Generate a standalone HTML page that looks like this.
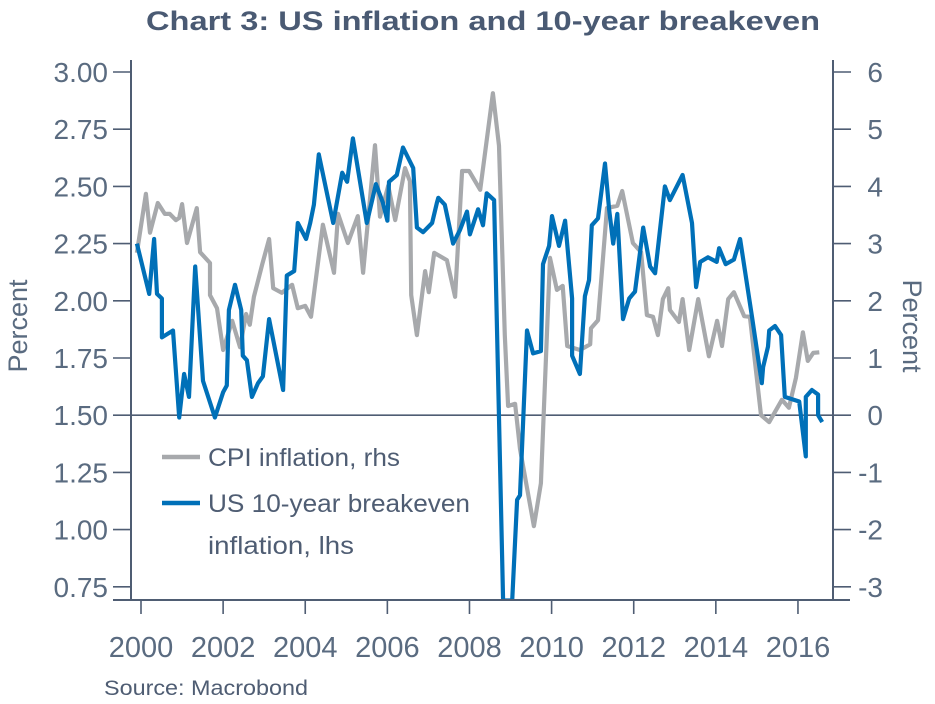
<!DOCTYPE html>
<html><head><meta charset="utf-8"><style>
html,body{margin:0;padding:0;background:#fff;}
svg{display:block;font-family:"Liberation Sans",sans-serif;}
</style></head><body>
<svg width="935" height="704" viewBox="0 0 935 704" xmlns="http://www.w3.org/2000/svg">
<text x="483" y="30" text-anchor="middle" font-size="27" font-weight="bold" fill="#4a5a73" textLength="674" lengthAdjust="spacingAndGlyphs">Chart 3: US inflation and 10-year breakeven</text>
<g id="axes"></g>
<defs><clipPath id="plotclip"><rect x="131" y="60" width="702" height="539"/></clipPath></defs>
<g id="series" clip-path="url(#plotclip)"></g>
<g>
<line x1="162" y1="457" x2="200" y2="457" stroke="#a7a9ac" stroke-width="4.5"/>
<text x="208" y="466" font-size="25" fill="#4f5d73" textLength="192" lengthAdjust="spacingAndGlyphs">CPI inflation, rhs</text>
<line x1="162" y1="503" x2="200" y2="503" stroke="#0070b8" stroke-width="4.5"/>
<text x="208" y="512" font-size="25" fill="#4f5d73" textLength="262" lengthAdjust="spacingAndGlyphs">US 10-year breakeven</text>
<text x="208" y="554" font-size="25" fill="#4f5d73" textLength="146" lengthAdjust="spacingAndGlyphs">inflation, lhs</text>
</g>
<text transform="translate(27,326) rotate(-90)" text-anchor="middle" font-size="27" fill="#5a6b80">Percent</text>
<text transform="translate(903,326) rotate(90)" text-anchor="middle" font-size="27" fill="#5a6b80">Percent</text>
<text x="104" y="695" font-size="21" fill="#4f5d73" textLength="204" lengthAdjust="spacingAndGlyphs">Source: Macrobond</text>
</svg>
<script>
const leftTicks=[3.00,2.75,2.50,2.25,2.00,1.75,1.50,1.25,1.00,0.75];
const leftTickLabels=["3.00","2.75","2.50","2.25","2.00","1.75","1.50","1.25","1.00","0.75"];
const rightTicks=[6,5,4,3,2,1,0,-1,-2,-3];
const rightTickLabels=["6","5","4","3","2","1","0","-1","-2","-3"];
const yearTicks=[2000,2002,2004,2006,2008,2010,2012,2014,2016];
const yearTickLabels=["2000","2002","2004","2006","2008","2010","2012","2014","2016"];
const beYears=[1999.9,2000.2,2000.32,2000.39,2000.51,2000.51,2000.78,2000.93,2001.05,2001.17,2001.32,2001.51,2001.8,2002.0,2002.09,2002.14,2002.29,2002.44,2002.48,2002.58,2002.7,2002.85,2002.97,2003.12,2003.46,2003.55,2003.73,2003.82,2004.02,2004.12,2004.21,2004.33,2004.68,2004.9,2005.02,2005.16,2005.5,2005.72,2005.89,2006.0,2006.04,2006.23,2006.38,2006.63,2006.72,2006.87,2007.09,2007.21,2007.24,2007.4,2007.6,2007.77,2007.94,2008.01,2008.21,2008.33,2008.42,2008.6,2008.82,2009.04,2009.16,2009.23,2009.4,2009.55,2009.74,2009.79,2009.94,2010.01,2010.18,2010.33,2010.5,2010.5,2010.69,2010.81,2010.91,2010.98,2011.13,2011.3,2011.4,2011.5,2011.6,2011.74,2011.89,2012.03,2012.23,2012.4,2012.52,2012.76,2012.88,2013.19,2013.42,2013.52,2013.62,2013.81,2014.02,2014.08,2014.24,2014.44,2014.59,2014.88,2015.12,2015.15,2015.27,2015.3,2015.44,2015.59,2015.68,2016.03,2016.19,2016.19,2016.34,2016.49,2016.49,2016.59];
const beValues=[2.25,2.03,2.27,2.03,2.01,1.84,1.87,1.49,1.68,1.58,2.15,1.65,1.49,1.6,1.63,1.96,2.07,1.96,1.76,1.74,1.58,1.64,1.67,1.92,1.61,2.11,2.13,2.34,2.27,2.34,2.42,2.64,2.34,2.56,2.52,2.71,2.34,2.51,2.43,2.35,2.52,2.55,2.67,2.58,2.32,2.3,2.34,2.43,2.45,2.42,2.25,2.31,2.39,2.29,2.4,2.33,2.47,2.44,0.69,0.69,1.13,1.15,1.87,1.77,1.78,2.16,2.24,2.37,2.24,2.35,2.01,1.76,1.68,2.02,2.09,2.33,2.36,2.6,2.4,2.25,2.38,1.92,2.01,2.04,2.32,2.15,2.12,2.5,2.44,2.55,2.34,2.06,2.17,2.19,2.17,2.23,2.16,2.18,2.27,1.93,1.64,1.71,1.8,1.87,1.89,1.85,1.58,1.56,1.32,1.58,1.61,1.59,1.5,1.47];
const cpiYears=[1999.9,2000.12,2000.22,2000.41,2000.58,2000.7,2000.85,2000.93,2001.0,2001.12,2001.36,2001.44,2001.68,2001.68,2001.85,2002.0,2002.22,2002.41,2002.56,2002.65,2002.75,2002.95,2003.12,2003.22,2003.43,2003.68,2003.82,2004.0,2004.14,2004.43,2004.7,2004.8,2005.04,2005.28,2005.41,2005.7,2005.82,2006.02,2006.19,2006.43,2006.55,2006.58,2006.72,2006.92,2007.01,2007.14,2007.45,2007.65,2007.82,2007.99,2008.26,2008.57,2008.72,2008.86,2008.94,2009.11,2009.23,2009.57,2009.74,2009.96,2010.13,2010.27,2010.38,2010.69,2010.94,2010.96,2011.13,2011.35,2011.6,2011.72,2011.98,2012.18,2012.32,2012.47,2012.59,2012.71,2012.84,2012.88,2013.1,2013.19,2013.35,2013.57,2013.83,2014.03,2014.15,2014.3,2014.44,2014.69,2014.83,2015.1,2015.3,2015.61,2015.78,2015.95,2016.12,2016.24,2016.37,2016.52];
const cpiValues=[2.84,3.87,3.19,3.71,3.52,3.52,3.41,3.45,3.69,3.01,3.62,2.85,2.66,2.1,1.87,1.14,1.65,1.19,1.77,1.58,2.07,2.63,3.08,2.22,2.14,2.28,1.87,1.91,1.72,3.33,2.49,3.52,3.01,3.48,2.49,4.72,3.47,4.01,3.41,4.32,4.09,2.1,1.4,2.52,2.15,2.84,2.71,2.07,4.27,4.27,3.94,5.63,4.71,1.4,0.16,0.2,-0.59,-1.94,-1.19,2.75,2.19,2.26,1.21,1.14,1.24,1.52,1.66,3.62,3.66,3.92,3.01,2.85,1.75,1.72,1.4,2.03,2.22,1.84,1.63,2.03,1.14,2.03,1.03,1.65,1.21,2.03,2.15,1.73,1.72,0.0,-0.12,0.27,0.13,0.65,1.45,0.95,1.09,1.1];

const NS="http://www.w3.org/2000/svg";
const X0=131,X1=833,YTOP=60,YBOT=600;
const xScale=y=>141+(y-2000)*41.06;
const yLeft=v=>72+(3-v)*228.8;
const yRight=v=>72+(6-v)*57.2;
const AX="#4f5d73",TXT="#5a6b80";
function mk(tag,attrs,parent){const e=document.createElementNS(NS,tag);for(const k in attrs)e.setAttribute(k,attrs[k]);parent.appendChild(e);return e;}
const axes=document.getElementById('axes');
let e;
e=mk('line',{x1:X0,y1:YTOP,x2:X0,y2:YBOT,stroke:AX,'stroke-width':2},axes);


e=mk('line',{x1:X1,y1:YTOP,x2:X1,y2:YBOT,stroke:AX,'stroke-width':2},axes);


e=mk('line',{x1:X0-18,y1:YBOT,x2:X1+17,y2:YBOT,stroke:AX,'stroke-width':2},axes);


e=mk('line',{x1:X0,y1:yLeft(1.5),x2:X1,y2:yLeft(1.5),stroke:AX,'stroke-width':1.6},axes);


leftTicks.forEach((v,i)=>{
  const y=yLeft(v);
  const t=mk('line',{x1:X0-18,y1:y,x2:X0,y2:y,stroke:AX,'stroke-width':1.6},axes);
  
  
  const l=mk('text',{x:108,y:y+10,'text-anchor':'end','font-size':28,fill:TXT},axes);
  l.textContent=leftTickLabels[i];
  
  
});
rightTicks.forEach((v,i)=>{
  const y=yRight(v);
  const t=mk('line',{x1:X1,y1:y,x2:X1+18,y2:y,stroke:AX,'stroke-width':1.6},axes);
  
  
  const l=mk('text',{x:883,y:y+10,'text-anchor':'end','font-size':28,fill:TXT},axes);
  l.textContent=rightTickLabels[i];
  
  
});
yearTicks.forEach((yr,i)=>{
  const x=xScale(yr);
  const t=mk('line',{x1:x,y1:YBOT,x2:x,y2:YBOT+14,stroke:AX,'stroke-width':1.6},axes);
  
  
  const l=mk('text',{x:x,y:657,'text-anchor':'middle','font-size':29,fill:TXT},axes);
  l.textContent=yearTickLabels[i];
  
  
});
const series=document.getElementById('series');
function pathOf(xs,vs,ys){return xs.map((x,i)=>(i?'L':'M')+xScale(x).toFixed(1)+','+ys(vs[i]).toFixed(1)).join(' ');}
const cpi=mk('path',{d:pathOf(cpiYears,cpiValues,yRight),fill:'none',stroke:'#a7a9ac','stroke-width':4.2,'stroke-linejoin':'round'},series);


const be=mk('path',{d:pathOf(beYears,beValues,yLeft),fill:'none',stroke:'#0070b8','stroke-width':4.2,'stroke-linejoin':'round'},series);


</script>
</body></html>
